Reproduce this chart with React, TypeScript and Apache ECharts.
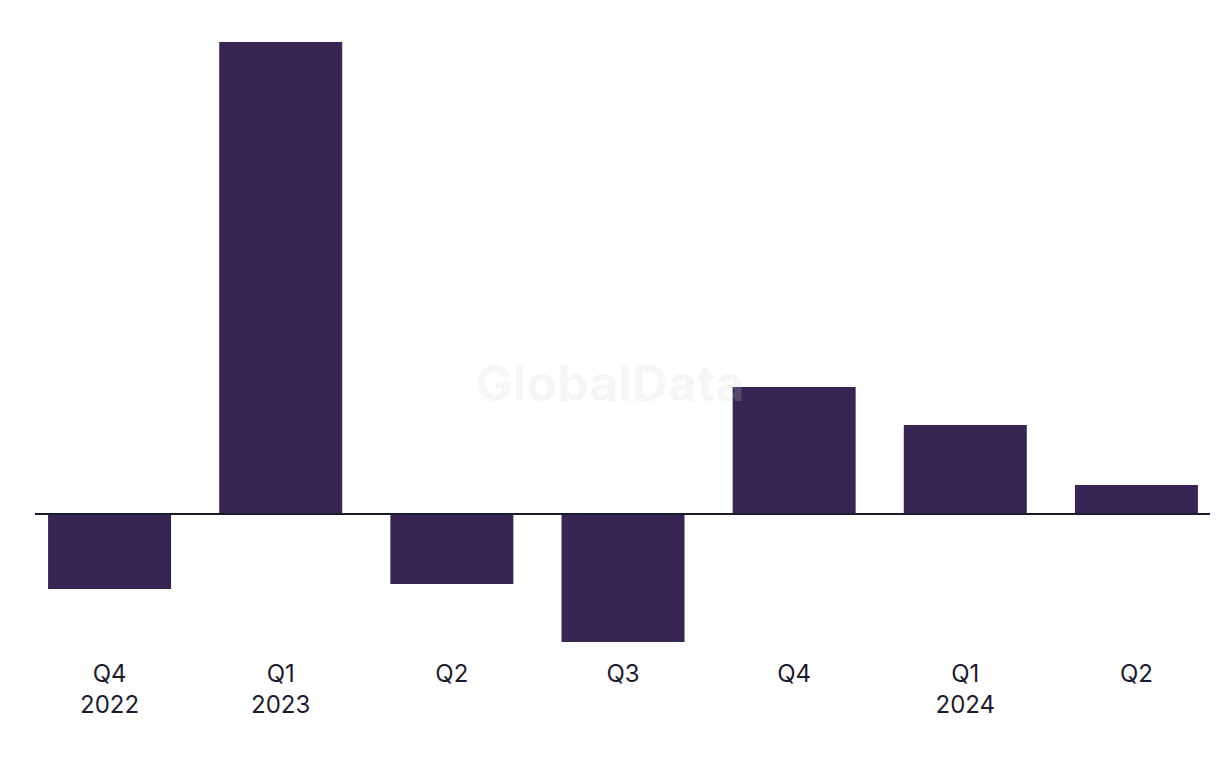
import React, { useEffect, useRef } from "react";
import * as echarts from "echarts";

const quarters = ["Q4", "Q1", "Q2", "Q3", "Q4", "Q1", "Q2"];
const years = ["2022", "2023", "", "", "", "2024", ""];
const values = [-7.5, 47.2, -7.0, -12.8, 12.7, 8.9, 2.9];

const categories = quarters.map((q, i) => (years[i] ? `${q}\n${years[i]}` : q));

export default function App() {
  const ref = useRef<HTMLDivElement>(null);
  useEffect(() => {
    if (!ref.current) return;
    const chart = echarts.init(ref.current, undefined, { renderer: "svg" });
    chart.setOption({
      animation: false,
      backgroundColor: "#ffffff",
      grid: { left: 24, top: 42, width: 1198, bottom: 126, containLabel: false },
      xAxis: {
        type: "category",
        data: categories,
        axisLine: { show: false, onZero: false },
        axisTick: { show: false },
        axisLabel: {
          margin: 16,
          color: "#1c1b2e",
          fontFamily: "Inter, 'Noto Sans', sans-serif",
          fontSize: 24,
          lineHeight: 31,
          interval: 0,
        },
      },
      yAxis: {
        type: "value",
        min: -12.8,
        max: 47.2,
        show: false,
        splitLine: { show: false },
      },
      series: [
        {
          type: "bar",
          data: values,
          barWidth: 123,
          itemStyle: { color: "#372554" },
          markLine: {
            silent: true,
            symbol: "none",
            label: { show: false },
            lineStyle: { color: "#1a1a2e", width: 2, type: "solid" },
            data: [[{ x: 35, yAxis: 0 }, { x: 1210, yAxis: 0 }]],
          },
        },
      ],
      graphic: [
        {
          type: "text",
          x: 610,
          y: 383,
          z: 100,
          style: {
            text: "GlobalData",
            align: "center",
            verticalAlign: "middle",
            fontSize: 50,
            fontWeight: "bold",
            fontFamily: "Inter, 'Noto Sans', sans-serif",
            fill: "rgba(210,210,210,0.2)",
          },
        },
      ],
    });
    return () => chart.dispose();
  }, []);
  return (
    <div style={{ width: 1220, height: 768, margin: -8, overflow: "hidden", background: "#fff" }}>
      <div ref={ref} style={{ width: 1232, height: 768 }} />
    </div>
  );
}
